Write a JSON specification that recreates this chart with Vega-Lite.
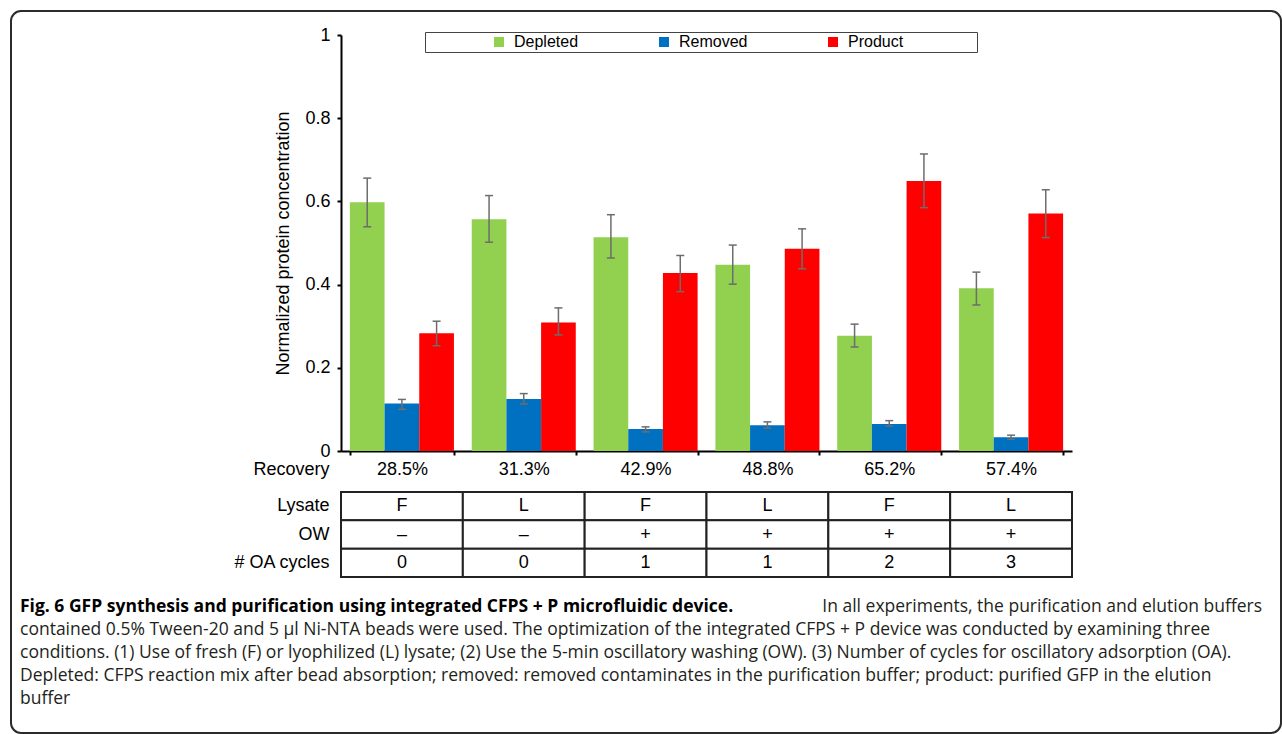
{
  "$schema": "https://vega.github.io/schema/vega-lite/v6.json",
  "background": "white",
  "autosize": {"type": "pad"},
  "padding": {"left": 10, "top": 10, "right": 0, "bottom": 0},
  "config": {
    "view": {"stroke": null},
    "font": "Liberation Sans",
    "axis": {"labelColor": "black", "titleColor": "black", "grid": false}
  },
  "datasets": {
    "bars": [
      {"recovery": "28.5%", "series": "Depleted", "value": 0.598, "lo": 0.539, "hi": 0.656},
      {"recovery": "28.5%", "series": "Removed", "value": 0.114, "lo": 0.100, "hi": 0.124},
      {"recovery": "28.5%", "series": "Product", "value": 0.283, "lo": 0.253, "hi": 0.312},
      {"recovery": "31.3%", "series": "Depleted", "value": 0.557, "lo": 0.502, "hi": 0.614},
      {"recovery": "31.3%", "series": "Removed", "value": 0.125, "lo": 0.113, "hi": 0.138},
      {"recovery": "31.3%", "series": "Product", "value": 0.309, "lo": 0.279, "hi": 0.344},
      {"recovery": "42.9%", "series": "Depleted", "value": 0.514, "lo": 0.464, "hi": 0.568},
      {"recovery": "42.9%", "series": "Removed", "value": 0.053, "lo": 0.046, "hi": 0.058},
      {"recovery": "42.9%", "series": "Product", "value": 0.428, "lo": 0.383, "hi": 0.470},
      {"recovery": "48.8%", "series": "Depleted", "value": 0.448, "lo": 0.401, "hi": 0.495},
      {"recovery": "48.8%", "series": "Removed", "value": 0.062, "lo": 0.055, "hi": 0.070},
      {"recovery": "48.8%", "series": "Product", "value": 0.486, "lo": 0.438, "hi": 0.534},
      {"recovery": "65.2%", "series": "Depleted", "value": 0.277, "lo": 0.250, "hi": 0.305},
      {"recovery": "65.2%", "series": "Removed", "value": 0.065, "lo": 0.060, "hi": 0.073},
      {"recovery": "65.2%", "series": "Product", "value": 0.649, "lo": 0.585, "hi": 0.714},
      {"recovery": "57.4%", "series": "Depleted", "value": 0.391, "lo": 0.351, "hi": 0.430},
      {"recovery": "57.4%", "series": "Removed", "value": 0.033, "lo": 0.028, "hi": 0.038},
      {"recovery": "57.4%", "series": "Product", "value": 0.571, "lo": 0.513, "hi": 0.628}
    ],
    "table": [
      {"recovery": "28.5%", "row": "Lysate", "val": "F"},
      {"recovery": "31.3%", "row": "Lysate", "val": "L"},
      {"recovery": "42.9%", "row": "Lysate", "val": "F"},
      {"recovery": "48.8%", "row": "Lysate", "val": "L"},
      {"recovery": "65.2%", "row": "Lysate", "val": "F"},
      {"recovery": "57.4%", "row": "Lysate", "val": "L"},
      {"recovery": "28.5%", "row": "OW", "val": "–"},
      {"recovery": "31.3%", "row": "OW", "val": "–"},
      {"recovery": "42.9%", "row": "OW", "val": "+"},
      {"recovery": "48.8%", "row": "OW", "val": "+"},
      {"recovery": "65.2%", "row": "OW", "val": "+"},
      {"recovery": "57.4%", "row": "OW", "val": "+"},
      {"recovery": "28.5%", "row": "# OA cycles", "val": "0"},
      {"recovery": "31.3%", "row": "# OA cycles", "val": "0"},
      {"recovery": "42.9%", "row": "# OA cycles", "val": "1"},
      {"recovery": "48.8%", "row": "# OA cycles", "val": "1"},
      {"recovery": "65.2%", "row": "# OA cycles", "val": "2"},
      {"recovery": "57.4%", "row": "# OA cycles", "val": "3"}
    ],
    "caption": [
      {"line": 1, "part": "bold", "text": "Fig. 6 GFP synthesis and purification using integrated CFPS + P microfluidic device."},
      {"line": 1, "part": "lead", "text": "In all experiments, the purification and elution buffers"},
      {"line": 2, "part": "body", "text": "contained 0.5% Tween-20 and 5 µl Ni-NTA beads were used. The optimization of the integrated CFPS + P device was conducted by examining three"},
      {"line": 3, "part": "body", "text": "conditions. (1) Use of fresh (F) or lyophilized (L) lysate; (2) Use the 5-min oscillatory washing (OW). (3) Number of cycles for oscillatory adsorption (OA)."},
      {"line": 4, "part": "body", "text": "Depleted: CFPS reaction mix after bead absorption; removed: removed contaminates in the purification buffer; product: purified GFP in the elution"},
      {"line": 5, "part": "body", "text": "buffer"}
    ],
    "none": []
  },
  "columns": 2,
  "align": {"row": "all", "column": "none"},
  "center": {"row": true, "column": false},
  "spacing": {"row": 0, "column": -1262},
  "resolve": {"legend": {"color": "independent"}},
  "concat": [
    {
      "width": 1270,
      "height": 722,
      "data": {"name": "none"},
      "mark": {"type": "point"},
      "view": {"stroke": "#2b2b2b", "strokeWidth": 2, "cornerRadius": 10, "fill": null}
    },
    {
      "spacing": 18,
      "resolve": {"legend": {"color": "independent"}},
      "vconcat": [
        {
          "spacing": 13,
          "resolve": {"legend": {"color": "independent"}},
          "vconcat": [
            {
              "width": 731,
              "height": 416,
              "data": {"name": "bars"},
              "layer": [
                {
                  "mark": {"type": "bar"},
                  "encoding": {
                    "x": {
                      "field": "recovery", "type": "nominal", "sort": null,
                      "scale": {"paddingInner": 0.146, "paddingOuter": 0.073},
                      "axis": {
                        "title": "Recovery", "titleX": -12, "titleY": 9, "titleAlign": "right", "titleBaseline": "top",
                        "titleFontSize": 18, "titleFontWeight": "normal",
                        "labelFontSize": 18, "labelAngle": 0, "labelPadding": 5, "labelBaseline": "top",
                        "tickBand": "extent", "ticks": true, "tickSize": 4, "tickColor": "black", "tickWidth": 2,
                        "domainColor": "black", "domainWidth": 2
                      }
                    },
                    "xOffset": {"field": "series", "type": "nominal", "sort": ["Depleted", "Removed", "Product"]},
                    "y": {
                      "field": "value", "type": "quantitative",
                      "scale": {"domain": [0, 1]},
                      "axis": {
                        "title": "Normalized protein concentration", "titleFontSize": 18, "titleFontWeight": "normal", "titlePadding": 12,
                        "values": [0, 0.2, 0.4, 0.6, 0.8, 1], "format": "~g",
                        "labelFontSize": 18, "labelPadding": 7,
                        "tickSize": 4, "tickColor": "black", "tickWidth": 2,
                        "domainColor": "black", "domainWidth": 2
                      }
                    },
                    "color": {
                      "field": "series", "type": "nominal",
                      "scale": {"domain": ["Depleted", "Removed", "Product"], "range": ["#92D050", "#0070C0", "#FF0000"]},
                      "legend": {
                        "orient": "none", "legendX": 84, "legendY": -3, "direction": "horizontal",
                        "title": " ", "titleOrient": "left", "titlePadding": 64, "titleFontSize": 16,
                        "labelFontSize": 16, "labelColor": "black", "labelOffset": 7, "columnPadding": 77,
                        "symbolType": "square", "symbolSize": 100, "symbolStrokeWidth": 0, "symbolOpacity": 1,
                        "strokeColor": "#444444", "fillColor": "white", "padding": 2,
                        "labelExpr": "datum.label === 'Product' ? 'Product\u00a0\u00a0\u00a0\u00a0\u00a0\u00a0\u00a0\u00a0\u00a0\u00a0\u00a0\u00a0\u00a0\u00a0\u00a0\u00a0\u200b' : datum.label"
                      }
                    }
                  }
                },
                {
                  "mark": {"type": "rule", "color": "#6d6d6d", "strokeWidth": 1.5},
                  "encoding": {
                    "x": {"field": "recovery", "type": "nominal", "sort": null},
                    "xOffset": {"field": "series", "type": "nominal", "sort": ["Depleted", "Removed", "Product"]},
                    "y": {"field": "lo", "type": "quantitative"},
                    "y2": {"field": "hi"}
                  }
                },
                {
                  "mark": {"type": "tick", "color": "#6d6d6d", "thickness": 1.5, "size": 8, "opacity": 1},
                  "encoding": {
                    "x": {"field": "recovery", "type": "nominal", "sort": null},
                    "xOffset": {"field": "series", "type": "nominal", "sort": ["Depleted", "Removed", "Product"]},
                    "y": {"field": "lo", "type": "quantitative"}
                  }
                },
                {
                  "mark": {"type": "tick", "color": "#6d6d6d", "thickness": 1.5, "size": 8, "opacity": 1},
                  "encoding": {
                    "x": {"field": "recovery", "type": "nominal", "sort": null},
                    "xOffset": {"field": "series", "type": "nominal", "sort": ["Depleted", "Removed", "Product"]},
                    "y": {"field": "hi", "type": "quantitative"}
                  }
                }
              ]
            },
            {
              "width": 731,
              "height": 85,
              "data": {"name": "table"},
              "encoding": {
                "x": {"field": "recovery", "type": "nominal", "sort": null, "scale": {"paddingInner": 0, "paddingOuter": 0}, "axis": null},
                "y": {
                  "field": "row", "type": "nominal", "sort": ["Lysate", "OW", "# OA cycles"],
                  "scale": {"paddingInner": 0, "paddingOuter": 0},
                  "axis": {"title": null, "domain": false, "ticks": false, "labelFontSize": 18, "labelPadding": 12}
                }
              },
              "layer": [
                {"mark": {"type": "rect", "fill": "white", "stroke": "#222222", "strokeWidth": 2}},
                {"mark": {"type": "text", "fontSize": 18, "color": "black"}, "encoding": {"text": {"field": "val"}}}
              ]
            }
          ]
        },
        {
          "width": 921,
          "height": 114,
          "data": {"name": "caption"},
          "encoding": {
            "y": {"field": "line", "type": "ordinal", "axis": null}
          },
          "layer": [
            {
              "transform": [{"filter": "datum.part === 'bold'"}],
              "mark": {"type": "text", "align": "left", "dx": -321, "font": "Open Sans", "fontSize": 17.5, "fontWeight": "bold", "color": "black"},
              "encoding": {"x": {"value": 0}, "text": {"field": "text"}}
            },
            {
              "transform": [{"filter": "datum.part === 'lead'"}],
              "mark": {"type": "text", "align": "right", "font": "Open Sans", "fontSize": 17.5, "color": "#231f20"},
              "encoding": {"x": {"value": "width"}, "text": {"field": "text"}}
            },
            {
              "transform": [{"filter": "datum.part === 'body'"}],
              "mark": {"type": "text", "align": "left", "dx": -321, "font": "Open Sans", "fontSize": 17.5, "color": "#231f20"},
              "encoding": {"x": {"value": 0}, "text": {"field": "text"}}
            }
          ]
        }
      ]
    }
  ]
}
